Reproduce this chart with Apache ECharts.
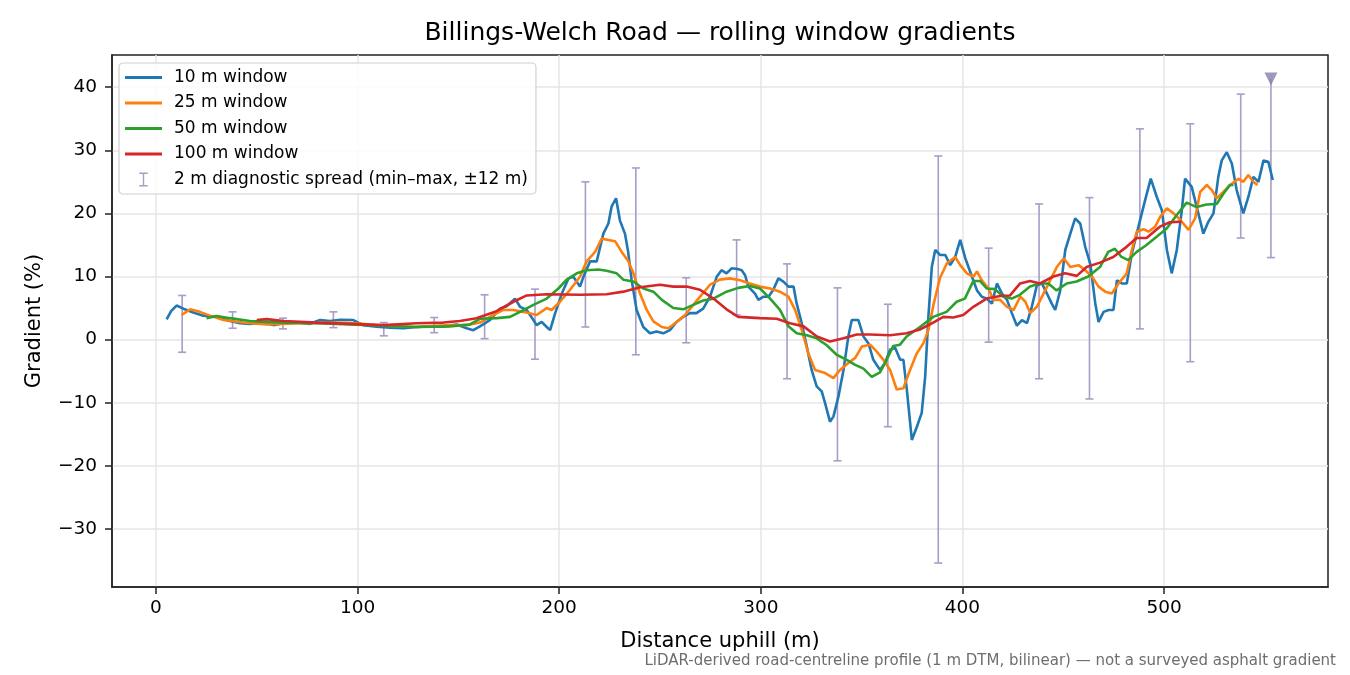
<!DOCTYPE html>
<html>
<head>
<meta charset="utf-8">
<title>Billings-Welch Road gradients</title>
<script src="https://cdn.jsdelivr.net/npm/echarts@6/dist/echarts.min.js"></script>
<style>
  html, body { margin: 0; padding: 0; background: #fff; }
  #main { width: 1350px; height: 675px; }
</style>
</head>
<body>
<div id="main"></div>
<script>
//----------------------------------------= data =----------------------------------------
var dist10 = [5.3,7.5,10.2,13.6,18.5,23.5,30.1,36.7,41.7,46.6,53.2,58.2,63.2,69.8,76.4,81.4,86.3,91.3,97.9,102.8,
  109.4,116.1,122.7,129.3,135.9,142.5,149.1,154.1,157.4,160.7,165.6,170.6,173.9,178.1,180.6,183.9,187.2,188.8,191.3,193.8,
  195.5,198.0,201.3,204.6,207.0,210.3,212.0,215.3,218.6,221.9,224.4,226.0,228.2,230.1,232.6,234.2,235.9,238.4,241.7,245.0,
  248.3,251.6,254.9,258.2,261.5,264.8,268.1,271.4,274.8,278.1,280.5,283.0,285.5,288.5,290.5,292.2,293.8,297.1,298.8,301.3,
  303.8,306.2,308.7,311.2,313.7,316.2,317.8,320.3,322.8,325.2,327.7,330.2,331.9,334.3,336.0,338.5,341.0,343.4,345.1,348.4,
  350.9,353.4,355.8,359.1,361.6,364.1,366.6,369.1,370.7,372.4,374.9,377.4,379.8,381.5,383.1,384.8,386.5,389.0,391.5,393.9,
  396.4,398.9,401.4,404.7,407.2,409.6,412.1,414.6,417.1,419.6,422.1,424.5,427.0,429.5,432.0,434.4,436.9,439.4,441.9,444.3,
  446.0,448.5,451.0,453.5,455.9,458.4,460.9,463.4,465.9,467.5,470.0,472.5,474.9,476.6,479.1,481.5,484.0,487.3,490.6,493.4,
  496.4,498.9,501.4,503.8,506.3,508.8,510.4,513.7,516.2,519.5,522.0,524.5,526.9,528.6,531.1,533.6,536.0,539.3,541.8,544.3,
  546.8,549.3,551.7,553.9];
var grad10 = [3.2,4.5,5.4,4.9,4.3,3.8,3.6,2.95,2.6,2.5,2.7,2.3,2.6,2.7,2.5,3.1,2.95,3.15,3.1,2.3,
  2.05,1.9,1.8,2.0,2.1,2.05,2.4,1.8,1.5,2.1,3.1,4.9,5.3,6.5,5.2,4.7,3.1,2.3,2.8,2.0,
  1.5,4.2,7.3,9.7,9.95,8.4,9.95,12.4,12.4,16.8,18.4,21.1,22.4,18.9,16.8,13.9,9.5,4.7,2.0,1.0,
  1.3,1.0,1.5,2.8,3.6,4.2,4.2,4.9,6.8,9.95,11.0,10.5,11.3,11.2,11.0,10.2,8.4,7.3,6.3,6.8,
  6.8,7.9,9.7,9.2,8.4,8.4,5.7,2.6,-1.1,-4.8,-7.4,-8.2,-10.1,-13.0,-12.2,-9.0,-4.8,0.5,3.1,3.1,
  0.5,-0.6,-3.2,-4.8,-3.7,-1.6,-1.3,-3.2,-3.2,-7.9,-15.9,-13.8,-11.6,-5.9,3.6,11.5,14.2,13.4,13.4,11.8,
  13.1,15.8,12.9,10.0,7.8,6.8,6.5,5.7,8.9,7.3,6.3,4.2,2.2,3.1,2.6,5.2,8.6,8.9,7.3,5.7,
  4.7,7.8,14.2,16.8,19.2,18.4,14.7,12.0,5.7,2.8,4.4,4.7,4.7,9.4,8.9,8.9,13.6,17.9,22.1,25.5,
  22.6,20.5,14.2,10.5,14.2,20.5,25.5,24.2,21.0,16.8,18.7,20.0,25.8,28.4,29.7,27.9,23.7,20.0,22.6,25.8,
  25.0,28.4,28.2,25.3];

var dist25 = [12.7,16.9,21.8,26.8,33.4,43.3,54.9,71.4,87.9,99.5,112.8,129.3,145.8,154.1,160.7,167.3,172.3,177.3,182.2,188.8,
  193.8,196.3,200.4,205.4,210.3,213.6,217.8,221.1,224.4,227.7,231.0,234.3,236.8,240.1,243.4,246.7,250.9,254.2,258.2,262.4,
  266.5,270.6,274.8,279.7,284.7,289.7,294.6,299.6,304.6,309.5,313.7,317.0,320.3,323.6,326.9,331.9,336.0,339.3,343.4,346.8,
  350.1,354.2,357.5,360.8,364.1,367.4,370.7,374.0,377.3,380.6,383.1,385.6,388.9,392.3,396.4,398.9,402.2,405.5,407.2,409.6,
  412.9,415.4,418.7,422.1,425.4,428.7,431.2,433.6,436.9,440.2,443.5,446.8,450.2,453.5,457.6,460.9,464.2,467.5,470.8,474.1,
  477.4,481.5,484.0,486.5,489.8,492.3,495.6,498.1,501.4,504.7,508.0,512.1,515.4,517.9,521.2,523.7,526.1,529.4,532.7,536.9,
  539.3,541.8,544.3,546.4];
var grad25 = [3.9,4.8,4.4,3.8,3.1,2.7,2.4,2.6,2.7,2.6,2.2,2.0,2.3,2.3,2.7,3.9,4.7,4.7,4.4,3.9,
  5.0,4.7,6.0,7.9,9.95,12.4,13.9,16.0,15.8,15.6,13.9,12.4,10.5,7.3,4.7,2.9,2.0,1.8,2.8,3.9,
  5.5,7.1,8.7,9.5,9.7,9.4,8.9,8.4,8.1,7.6,6.8,4.7,1.5,-2.2,-4.8,-5.3,-6.1,-4.8,-3.7,-2.9,
  -1.1,-0.8,-1.9,-3.2,-4.8,-7.9,-7.7,-4.8,-2.2,-0.6,1.5,5.5,9.8,12.1,13.1,11.8,10.5,10.0,10.8,9.4,
  8.1,6.3,6.3,5.2,4.7,6.8,6.0,4.2,5.2,7.3,9.4,11.5,12.9,11.5,11.8,11.0,10.0,8.4,7.6,7.3,
  8.9,10.5,14.2,17.1,17.5,17.1,17.9,19.5,20.8,20.0,19.0,17.4,19.2,23.4,24.5,23.7,22.4,23.4,24.5,25.5,
  25.0,26.1,25.0,24.5];

var dist50 = [25.1,30.1,36.7,46.6,63.2,79.7,96.2,112.8,129.3,145.8,155.7,160.7,169.0,175.6,180.6,187.2,193.8,199.6,203.7,208.7,
  213.6,219.4,223.5,228.5,231.8,236.8,241.7,246.7,250.9,256.6,261.5,266.5,271.4,276.5,283.0,288.8,294.6,299.6,304.6,309.5,
  313.7,317.8,322.8,327.7,332.7,337.6,342.6,346.8,350.9,355.0,359.1,362.4,365.7,369.0,372.3,378.9,385.5,392.1,397.1,401.2,
  405.4,408.7,412.0,416.1,420.3,424.4,428.5,433.5,438.4,442.6,446.7,451.7,456.6,462.4,468.2,472.3,475.6,478.9,482.2,486.4,
  491.3,496.3,501.3,506.2,511.2,516.1,521.1,526.1,529.4,532.7,534.4];
var grad50 = [3.4,3.75,3.4,2.95,2.7,2.6,2.4,2.2,2.0,2.1,2.4,3.3,3.4,3.6,4.4,5.5,6.5,8.1,9.5,10.5,
  11.0,11.1,10.9,10.5,9.5,9.2,8.1,7.6,6.3,5.0,4.8,5.5,6.2,6.5,7.6,8.2,8.5,8.1,6.5,4.7,
  2.1,1.0,0.7,0.2,-0.9,-2.4,-3.2,-4.0,-4.6,-5.9,-5.2,-3.2,-1.0,-0.8,0.5,2.0,3.6,4.4,6.0,6.5,
  9.3,9.3,8.1,8.0,6.8,6.5,7.1,8.4,8.9,8.9,7.8,8.9,9.2,10.0,11.5,13.9,14.4,13.1,12.6,13.9,
  15.0,16.3,17.6,19.7,21.7,21.0,21.4,21.5,23.1,24.5,24.5];

var dist100 = [50.0,54.9,63.2,79.7,96.2,112.8,129.3,142.5,150.7,159.0,168.9,177.3,183.9,193.8,210.3,223.5,231.8,240.1,250.0,256.6,
  263.2,269.8,276.5,283.0,288.8,299.6,307.9,314.5,321.2,327.8,334.3,341.0,347.6,354.2,364.1,372.3,378.9,385.5,390.5,395.4,
  400.4,405.4,412.0,418.7,423.6,428.6,433.5,438.5,445.1,450.9,456.7,461.6,468.2,474.8,481.4,486.4,491.3,497.9,502.9,508.7];
var grad100 = [3.1,3.25,2.95,2.7,2.5,2.3,2.6,2.7,2.95,3.4,4.5,6.0,7.0,7.2,7.1,7.2,7.6,8.3,8.7,8.4,
  8.4,7.9,6.5,4.8,3.6,3.4,3.3,2.6,2.1,0.5,-0.3,0.2,0.8,0.8,0.7,1.0,1.6,2.7,3.6,3.5,
  3.9,5.2,6.5,6.9,7.0,8.9,9.3,8.9,10.0,10.5,10.1,11.5,12.2,13.1,14.7,16.1,16.1,17.9,18.6,18.7];

// 2 m diagnostic spread, min..max over +-12 m; last one runs off the top
var errX  = [13,38,63,88,113,138,163,188,213,238,263,288,313,338,363,388,413,438,463,488,513,538,553];
var errLo = [-2.0,1.8,1.7,1.9,0.6,1.1,0.15,-3.1,2.0,-2.4,-0.5,3.9,-6.2,-19.2,-13.8,-35.4,-0.4,-6.2,-9.4,1.7,-3.5,16.1,13.0];
var errHi = [7.0,4.4,3.4,4.4,2.7,3.5,7.1,8.0,25.0,27.2,9.8,15.8,12.0,8.2,5.6,29.1,14.5,21.5,22.5,33.4,34.2,38.9,41.3];
var clipX = [553];
var clipY = [41.3];

var xTicks = [0,100,200,300,400,500];
var yTicks = [-30,-20,-10,0,10,20,30,40];

var seriesNames = ['10 m window','25 m window','50 m window','100 m window'];
var seriesColors = ['#1f77b4','#ff7f0e','#2ca02c','#d62728'];
var errName = '2 m diagnostic spread (min\u2013max, \u00b112 m)';

//----------------------------------------= helpers =----------------------------------------
function pairs(xs, ys) {
  var out = [];
  for (var i = 0; i < xs.length; i++) out.push([xs[i], ys[i]]);
  return out;
}

var font = 'DejaVu Sans';
var errColor = '#a99cc6';
var frame = '#222';
var lineIcon = 'path://M0,0H40V3H0Z';

var errData = [];
for (var i = 0; i < errX.length; i++) {
  // 4th value: draw the top cap (0 when the bar is clipped)
  errData.push([errX[i], errLo[i], errHi[i], clipX.indexOf(errX[i]) < 0 ? 1 : 0]);
}

function renderErr(params, api) {
  var x = api.value(0);
  var lo = api.coord([x, api.value(1)]);
  var hi = api.coord([x, api.value(2)]);
  var cap = 4;
  var st = { stroke: errColor, lineWidth: 1.6 };
  var kids = [
    { type: 'line', shape: { x1: lo[0], y1: lo[1], x2: hi[0], y2: hi[1] }, style: st },
    { type: 'line', shape: { x1: lo[0] - cap, y1: lo[1], x2: lo[0] + cap, y2: lo[1] }, style: st }
  ];
  if (api.value(3)) {
    kids.push({ type: 'line', shape: { x1: hi[0] - cap, y1: hi[1], x2: hi[0] + cap, y2: hi[1] }, style: st });
  }
  return { type: 'group', children: kids };
}

function minusFmt(v) {
  return v < 0 ? '\u2212' + Math.abs(v) : String(v);
}

var legendData = [];
for (var k = 0; k < seriesNames.length; k++) {
  legendData.push({ name: seriesNames[k], icon: lineIcon });
}
legendData.push({ name: errName, icon: 'path://M0,0H9V1.5H5.25V13.5H9V15H0V13.5H3.75V1.5H0Z' });

var lineSeries = [];
for (var s = 0; s < seriesNames.length; s++) {
  var xs = [dist10, dist25, dist50, dist100][s];
  var ys = [grad10, grad25, grad50, grad100][s];
  lineSeries.push({
    name: seriesNames[s], type: 'line', data: pairs(xs, ys), symbol: 'none',
    lineStyle: { width: 2.6, color: seriesColors[s] }, itemStyle: { color: seriesColors[s] }, z: 2 + s
  });
}

//----------------------------------------= chart =----------------------------------------
var chart = echarts.init(document.getElementById('main'));

var option = {
  animation: false,
  backgroundColor: '#fff',
  textStyle: { fontFamily: font },
  title: {
    text: 'Billings-Welch Road \u2014 rolling window gradients',
    left: 720,
    textAlign: 'center',
    top: 21,
    padding: 0,
    textStyle: { fontFamily: font, fontSize: 25, fontWeight: 'normal', color: '#000' }
  },
  grid: {
    left: 112, right: 22, top: 55, bottom: 88,
    show: true, borderColor: frame, borderWidth: 1.5, backgroundColor: 'transparent'
  },
  legend: {
    orient: 'vertical',
    left: 119, top: 63,
    padding: [6, 8, 6, 6],
    itemWidth: 37, itemHeight: 14, itemGap: 8.5,
    backgroundColor: 'rgba(255,255,255,0.85)',
    borderColor: '#d0d0d0', borderWidth: 1.2, borderRadius: 4,
    textStyle: { fontFamily: font, fontSize: 17, color: '#000', lineHeight: 17, padding: [0, 0, 0, 7] },
    data: legendData
  },
  xAxis: {
    type: 'value',
    min: -21.8, max: 581.3,
    name: 'Distance uphill (m)',
    nameLocation: 'middle', nameGap: 44,
    nameTextStyle: { fontFamily: font, fontSize: 21, color: '#000' },
    axisLine: { show: true, onZero: false, lineStyle: { color: frame, width: 1.5 } },
    axisTick: { show: true, length: 7, lineStyle: { color: frame, width: 1.5 }, customValues: xTicks },
    axisLabel: { customValues: xTicks, fontSize: 18.5, color: '#000', margin: 12, fontFamily: font },
    splitLine: { show: true, lineStyle: { color: '#e6e6e6', width: 1.5 } }
  },
  yAxis: {
    type: 'value',
    min: -39.2, max: 45.1,
    name: 'Gradient (%)',
    nameLocation: 'middle', nameRotate: 90, nameGap: 67,
    nameTextStyle: { fontFamily: font, fontSize: 21, color: '#000' },
    axisLine: { show: true, onZero: false, lineStyle: { color: frame, width: 1.5 } },
    axisTick: { show: true, length: 7, lineStyle: { color: frame, width: 1.5 }, customValues: yTicks },
    axisLabel: { customValues: yTicks, fontSize: 18.5, color: '#000', margin: 15, fontFamily: font, formatter: minusFmt },
    splitLine: { show: true, lineStyle: { color: '#e6e6e6', width: 1.5 } }
  },
  graphic: [{
    type: 'text',
    right: 14, top: 654,
    style: {
      text: 'LiDAR-derived road-centreline profile (1 m DTM, bilinear) \u2014 not a surveyed asphalt gradient',
      font: '15px "DejaVu Sans"', fill: '#6e6e6e'
    }
  }],
  series: [
    {
      name: errName, type: 'custom', renderItem: renderErr, data: errData,
      itemStyle: { color: errColor }, clip: true, z: 1,
      encode: { x: 0, y: [1, 2] }
    },
    {
      name: 'clipped', type: 'scatter', data: pairs(clipX, clipY),
      symbol: 'triangle', symbolRotate: 180, symbolSize: 13,
      itemStyle: { color: '#8a7cab' }, z: 1
    }
  ].concat(lineSeries)
};

chart.setOption(option);
</script>
</body>
</html>
